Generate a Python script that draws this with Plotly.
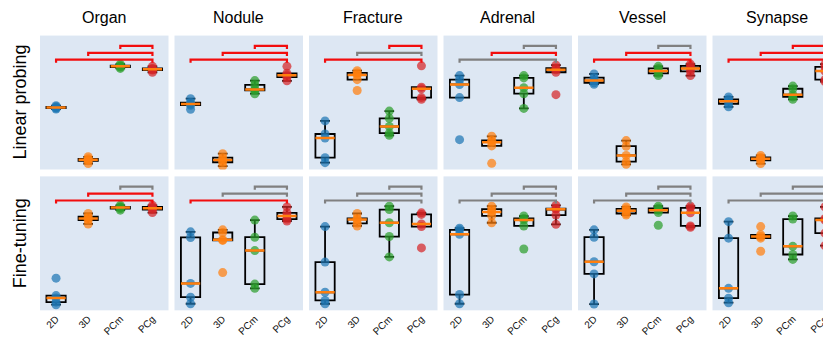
import numpy as np
import plotly.graph_objects as go

# ---------------- data ----------------
TASKS = ["Organ", "Nodule", "Fracture", "Adrenal", "Vessel", "Synapse"]
METHODS = ["2D", "3D", "PCm", "PCg"]
ROWS = ["Linear probing", "Fine-tuning"]

# per-panel scores (arbitrary units), one list per method: 2D, 3D, PCm, PCg
LP_ORGAN = [[47.6, 46.8, 46.3, 45.8, 45.1], [9.5, 8.0, 7.2, 6.5, 4.5], [78.7, 77.5, 77.0, 76.5, 75.5], [77.0, 75.5, 74.8, 74.3, 72.6]]
LP_NODULE = [[52.9, 50.0, 49.0, 48.0, 44.9], [11.8, 8.8, 7.1, 5.4, 2.5], [66.4, 63.2, 59.8, 59.1, 56.6], [77.0, 71.8, 70.4, 68.9, 66.2]]
LP_FRACTURE = [[36.3, 26.5, 23.5, 8.8, 5.1], [73.8, 72.1, 70.6, 67.1, 59.0], [43.6, 38.2, 32.1, 27.2, 25.5], [77.4, 61.5, 60.3, 53.7, 52.4]]
LP_ADRENAL = [[70.1, 67.1, 63.5, 53.7, 22.3], [24.8, 21.8, 20.4, 17.6, 4.6], [70.1, 68.4, 61.0, 56.6, 45.6], [77.9, 75.7, 74.5, 72.6, 55.9]]
LP_VESSEL = [[71.3, 68.6, 66.4, 64.7, 63.7], [21.6, 17.4, 10.5, 5.9, 3.9], [77.0, 75.5, 73.5, 71.8, 70.1], [78.7, 77.4, 75.5, 73.3, 70.1]]
LP_SYNAPSE = [[54.2, 52.4, 50.9, 49.0, 46.8], [10.5, 9.0, 8.1, 6.8, 4.4], [62.3, 60.3, 55.9, 54.2, 52.4], [78.7, 76.7, 73.5, 67.1, 65.7]]

FT_ORGAN = [[24.0, 11.0, 9.3, 6.1, 4.2], [72.3, 69.9, 68.6, 67.4, 64.5], [78.4, 77.2, 76.7, 76.0, 74.8], [78.4, 77.2, 76.2, 75.2, 73.0]]
FT_NODULE = [[58.6, 54.4, 20.1, 9.8, 4.9], [60.1, 58.1, 52.7, 52.2, 28.2], [67.4, 54.6, 44.6, 19.6, 16.4], [77.2, 72.8, 70.4, 68.1, 66.7]]
FT_FRACTURE = [[62.5, 36.0, 13.5, 7.4, 4.9], [72.3, 68.6, 67.9, 65.0, 63.0], [77.7, 75.2, 65.4, 55.1, 39.9], [72.8, 71.6, 64.5, 62.5, 46.6]]
FT_ADRENAL = [[61.3, 60.1, 56.8, 11.8, 4.9], [77.7, 75.5, 73.5, 70.6, 65.4], [70.4, 68.6, 67.4, 63.0, 45.8], [78.4, 76.0, 75.5, 71.1, 64.2]]
FT_VESSEL = [[60.1, 54.6, 36.3, 27.2, 4.7], [77.2, 75.7, 74.3, 72.3, 71.1], [77.7, 76.2, 74.8, 73.0, 63.5], [77.7, 76.5, 72.8, 63.0, 62.0]]
FT_SYNAPSE = [[66.2, 53.9, 16.4, 9.1, 5.7], [62.5, 56.4, 55.1, 53.9, 44.1], [70.4, 68.1, 47.8, 41.7, 38.0], [77.2, 68.6, 67.4, 57.6, 48.3]]

# significance of PCg vs (PCm, 3D, 2D) comparisons; True = significant (red)
LP_SIG = [[True, True, True], [True, True, True], [True, False, True],
          [False, True, False], [False, True, True], [True, True, True]]
FT_SIG = [[False, True, True], [False, False, True], [False, False, False],
          [False, False, False], [False, False, False], [False, False, False]]

PANELS = [[LP_ORGAN, LP_NODULE, LP_FRACTURE, LP_ADRENAL, LP_VESSEL, LP_SYNAPSE],
          [FT_ORGAN, FT_NODULE, FT_FRACTURE, FT_ADRENAL, FT_VESSEL, FT_SYNAPSE]]
SIGS = [LP_SIG, FT_SIG]

# ---------------- style ----------------
PAGE_OFF = 8                     # default body margin of the html page
W, H = 831 - PAGE_OFF, 337 - PAGE_OFF
COLORS = ["rgba(31,119,180,0.72)", "rgba(255,127,14,0.72)", "rgba(44,160,44,0.72)", "rgba(214,39,40,0.72)"]
BG = "#dde7f3"
RED = "#f20d0d"
GRAY = "#808080"
FONT = "Liberation Sans, Arial, sans-serif"

COL_LEFT = [x - PAGE_OFF for x in [40, 174.5, 309, 443.5, 578, 712.5]]
COL_W = 128.5
ROW_TOP = [y - PAGE_OFF for y in [36, 179]]
ROW_H = 136
UNIT = COL_W / 4.0
BR_LEVELS = [92.3, 87.1, 82.0]   # y (axis units) of the three brackets (top, mid, bottom)
BR_TICK = 2.3
BR_FROM = [2, 1, 0]              # start category for each bracket, all end at PCg

fig = go.Figure()
layout = {}

for r in range(2):
    for c in range(6):
        idx = r * 6 + c + 1
        xa = "x" if idx == 1 else f"x{idx}"
        ya = "y" if idx == 1 else f"y{idx}"
        left = COL_LEFT[c]
        right = min(left + COL_W, W)
        xr = [-0.5, -0.5 + (right - left) / UNIT]
        top = ROW_TOP[r]
        bot = top + ROW_H
        layout["xaxis" if idx == 1 else f"xaxis{idx}"] = dict(
            domain=[left / W, right / W], range=xr, anchor=ya,
            showgrid=False, zeroline=False, showline=False, ticks="",
            tickvals=list(range(4)), ticktext=METHODS,
            showticklabels=(r == 1), tickangle=-45, ticklabeloverflow="allow",
            tickfont=dict(size=10, family=FONT, color="#111"),
        )
        layout["yaxis" if idx == 1 else f"yaxis{idx}"] = dict(
            domain=[1 - bot / H, 1 - top / H], range=[0, 100], anchor=xa,
            showgrid=False, zeroline=False, showline=False, showticklabels=False, ticks="",
        )
        data = PANELS[r][c]
        # points
        for k in range(4):
            v = np.array(data[k])
            fig.add_trace(go.Scatter(
                x=[k] * len(v), y=v, mode="markers", xaxis=xa, yaxis=ya,
                marker=dict(size=9, color=COLORS[k], line=dict(width=0)),
                showlegend=False, hoverinfo="y"))
        # boxes
        for k in range(4):
            v = np.sort(np.array(data[k]))
            q1, med, q3 = np.percentile(v, [25, 50, 75])
            iqr = q3 - q1
            lf = v[v >= q1 - 1.5 * iqr].min()
            uf = v[v <= q3 + 1.5 * iqr].max()
            fig.add_trace(go.Box(
                x=[k], q1=[q1], median=[med], q3=[q3], lowerfence=[lf], upperfence=[uf],
                width=0.6, whiskerwidth=0.5, boxpoints=False,
                line=dict(color="black", width=1.8), fillcolor="rgba(0,0,0,0)",
                xaxis=xa, yaxis=ya, showlegend=False, hoverinfo="skip"))
            fig.add_trace(go.Scatter(
                x=[k - 0.3, k + 0.3], y=[med, med], mode="lines", xaxis=xa, yaxis=ya,
                line=dict(color="#ff7f0e", width=2.5), showlegend=False, hoverinfo="skip"))
        # significance brackets
        for lvl in range(3):
            col = RED if SIGS[r][c][lvl] else GRAY
            x0, x1 = BR_FROM[lvl], 3
            yb = BR_LEVELS[lvl]
            fig.add_trace(go.Scatter(
                x=[x0, x0, x1, x1], y=[yb - BR_TICK, yb, yb, yb - BR_TICK], mode="lines",
                xaxis=xa, yaxis=ya, line=dict(color=col, width=2.2),
                showlegend=False, hoverinfo="skip"))

annotations = []
for c, t in enumerate(TASKS):
    annotations.append(dict(
        text=t, x=(COL_LEFT[c] + COL_W / 2) / W, y=1 - (18 - PAGE_OFF) / H, xref="paper", yref="paper",
        xanchor="center", yanchor="middle", showarrow=False,
        font=dict(size=16, family=FONT, color="black")))
for r, t in enumerate(ROWS):
    annotations.append(dict(
        text=t, x=(20 - PAGE_OFF) / W, y=1 - (ROW_TOP[r] + ROW_H / 2) / H, xref="paper", yref="paper",
        xanchor="center", yanchor="middle", showarrow=False, textangle=-90,
        font=dict(size=18, family=FONT, color="black")))

fig.update_layout(
    width=W, height=H, margin=dict(l=0, r=0, t=0, b=0),
    paper_bgcolor="white", plot_bgcolor=BG, showlegend=False,
    annotations=annotations, **layout)

fig.write_html("out.html")
